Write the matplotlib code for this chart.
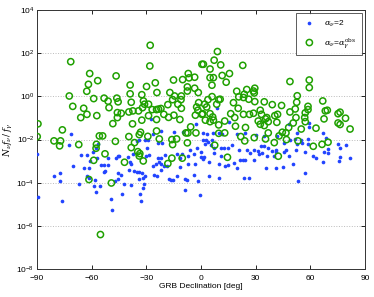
import numpy as np
import matplotlib
matplotlib.use("Agg")
import matplotlib.pyplot as plt

# GRB declination [deg] and log10(N_nu f_nu / f_gamma)
blue_dec = [-71.5, -89.9, -72.3, -56.5, -66.0, -62.7, -59.1, -57.6, -56.9, -60.9,
            -54.7, -53.2, -51.0, -51.2, -46.6, -45.3, -70.4, -64.4, -61.5, -53.2,
            -52.5, -45.7, -45.7, -47.0, -80.9, -77.2, -77.6, -62.6, -61.6, -58.0,
            -67.1, -58.9, -55.4, -57.6, -89.7, -76.1, -49.2, -48.6,
            -27.7, -21.8, -14.9, -9.7, -2.8, -26.6, -31.0, -29.2, -34.3, -35.4,
            -23.7, -21.5, -29.9, -6.0, -2.4, -44.9, -40.2, -37.6, -30.3, -28.8,
            -23.7, -21.8, -20.0, -13.4, -11.6, -10.5, -7.2, -3.9, 0.2, -39.1,
            -38.3, -24.8, -22.9, -26.6, -22.2, -20.4, -18.5, -22.2, -11.6, -7.2,
            -3.1, -39.4, -36.9, -35.4, -34.3, -32.5, -30.6, -43.8, -25.9, -24.4,
            -13.0, -3.9, -34.3, -32.1, -17.8, -16.7, -15.6, -9.0, -7.9, -1.7,
            -42.4, -38.3, -31.7, -31.4, -33.6, -43.5, -8.6, -0.6, -33.2,
            9.0, 1.3, 3.1, 6.8, 10.1, 11.6, 15.6, 19.6, 24.4, 29.9,
            34.3, 41.6, 45.7, 0.9, 2.7, 3.9, 6.0, 2.4, 5.3, 7.2,
            11.2, 12.7, 14.9, 17.1, 21.1, 25.1, 26.9, 29.2, 31.0, 32.8,
            34.3, 36.9, 39.1, 41.3, 45.7, 7.2, 0.2, 1.6, 1.3, 10.8,
            14.9, 18.2, 21.5, 22.9, 24.4, 28.8, 31.7, 33.6, 36.1, 40.2,
            40.9, 4.6, 9.7, 13.0, 20.0, 35.4, 40.9, 44.9, 4.6, 9.7,
            23.7, 26.2,
            48.4, 59.4, 59.1, 52.5, 66.8, 68.6, 48.8, 51.4, 55.0, 55.4,
            58.7, 58.7, 52.8, 75.2, 76.3, 79.3, 46.9, 52.1, 57.2, 67.5,
            69.7, 69.7, 61.6, 63.1, 48.1, 66.8, 76.3, 75.6, 81.8, 50.6,
            56.9, 53.2]
blue_log = [-1.74, -2.68, -2.23, -2.22, -2.71, -2.71, -2.56, -2.37, -2.83, -2.99,
            -3.17, -3.17, -3.16, -2.83, -2.86, -2.74, -3.22, -3.33, -3.33, -3.48,
            -3.44, -3.54, -3.82, -3.92, -3.68, -3.54, -3.90, -3.68, -3.79, -3.87,
            -4.08, -4.15, -4.13, -4.41, -4.66, -4.86, -4.75, -5.24,
            -1.04, -1.60, -1.66, -1.63, -1.29, -1.75, -2.02, -2.00, -2.02, -2.06,
            -2.15, -2.15, -2.37, -2.49, -2.37, -2.76, -2.80, -2.68, -2.77, -2.71,
            -2.85, -2.86, -2.71, -2.68, -2.86, -2.68, -2.77, -2.68, -2.80, -3.02,
            -3.14, -3.11, -3.05, -3.24, -3.14, -3.24, -3.24, -3.42, -3.27, -3.11,
            -3.11, -3.39, -3.45, -3.48, -3.51, -3.54, -3.67, -3.64, -3.64, -3.70,
            -3.67, -3.64, -3.84, -3.79, -3.82, -3.88, -3.85, -3.82, -3.88, -3.92,
            -4.07, -4.12, -4.22, -4.04, -4.50, -4.50, -4.33, -4.58, -4.86,
            -0.55, -1.68, -1.75, -1.68, -1.69, -1.72, -1.17, -1.74, -1.69, -1.78,
            -1.85, -1.83, -2.14, -2.03, -2.00, -2.12, -2.03, -2.22, -2.25, -2.37,
            -2.37, -2.37, -2.40, -2.25, -2.49, -2.46, -2.60, -2.49, -2.52, -2.31,
            -2.28, -2.37, -2.52, -2.46, -2.56, -2.62, -2.56, -2.80, -2.90, -2.74,
            -3.17, -3.08, -2.96, -2.93, -2.93, -2.96, -2.68, -2.62, -2.77, -2.77,
            -2.57, -3.02, -3.11, -3.24, -3.33, -3.33, -3.33, -3.27, -3.71, -3.76,
            -3.79, -3.79,
            -1.26, -1.21, -1.41, -1.69, -1.69, -1.91, -2.00, -1.97, -2.00, -2.15,
            -1.97, -2.19, -2.22, -2.22, -2.37, -2.25, -2.46, -2.46, -2.59, -2.59,
            -2.43, -2.60, -2.74, -2.86, -2.77, -3.05, -2.80, -2.99, -2.86, -3.14,
            -3.54, -3.92]

green_dec = [-71.5, -61.1, -56.7, -61.8, -62.7, -46.6, -72.3, -70.4, -58.9, -53.2,
             -51.0, -46.2, -45.5, -64.4, -62.6, -66.0, -57.2, -50.5, -45.9, -45.9,
             -48.4, -89.5, -89.9, -76.1, -80.7, -77.1, -77.6, -67.1, -55.8, -54.0,
             -57.4, -57.6, -47.0, -52.7, -58.9, -61.5, -49.2, -55.2,
             -27.9, -28.1, -38.9, -29.9, -25.1, -38.9, -32.5, -24.2, -15.1, -10.1,
             -7.0, -6.6, -3.5, 0.5, -7.5, -7.5, -3.5, -1.5, -17.1, -14.5,
             -10.8, -15.6, -18.2, -12.7, -11.0, -10.8, -38.3, -31.6, -31.0, -28.8,
             -32.1, -26.8, -24.4, -23.3, -22.0, -43.8, -39.6, -37.4, -34.3, -28.8,
             -24.4, -20.4, -17.8, -14.9, -11.6, -3.1, -1.7, -2.4, -1.3, 0.5,
             -37.6, -32.5, -5.7, -33.2, -33.9, -29.2, -22.9, -24.4, -39.6, -36.5,
             -38.3, -34.7, -33.6, -33.9, -31.7, -42.0, -16.0, -13.4, -15.6, -16.0,
             -18.2, -8.3, -7.2, -7.5, -2.8, -10.3,
             9.0, 1.3, 7.2, 10.8, 4.95, 4.95, 6.8, 11.6, 15.6, 22.9,
             13.8, 6.0, 19.6, 23.7, 25.1, 20.7, 23.3, 28.8, 29.5, 29.2,
             6.05, 3.8, 9.7, 10.5, 8.6, 2.0, 3.1, 17.8, 26.2, 29.5,
             34.7, 39.1, 44.2, 20.4, 0.9, 4.95, 6.4, 16.3, 23.3, 26.6,
             28.8, 32.5, 33.2, 42.0, 2.4, 4.95, 6.8, 9.7, 13.0, 18.5,
             18.9, 24.4, 31.4, 32.5, 35.4, 36.1, 36.9, 34.7, 41.6, 40.5,
             9.7, 13.0, 36.9, 21.8, 24.0, 29.2, 35.4, 42.8, 44.6, 7.5,
             14.5, 42.4, 40.2,
             48.8, 59.4, 59.4, 52.8, 52.5, 51.7, 48.8, 58.7, 58.7, 57.2,
             52.1, 56.9, 57.2, 50.6, 48.1, 55.0, 63.1, 66.8, 68.2, 69.3,
             67.5, 75.2, 76.3, 75.2, 76.3, 79.3, 81.8, 46.6, 46.9, 53.2,
             61.6, 66.4, 69.7]
green_log = [1.61, 1.06, 0.73, 0.56, 0.24, 0.95, 0.02, -0.46, -0.10, -0.08,
             -0.22, -0.08, -0.25, -0.55, -0.83, -0.98, -0.89, -0.52, -0.75, -0.98,
             -1.26, -1.27, -1.86, -1.55, -2.06, -2.06, -2.29, -2.23, -1.83, -1.83,
             -2.22, -2.40, -2.08, -2.66, -2.96, -3.85, -4.01, -6.40,
             2.37, 1.41, 0.53, 0.46, 0.63, 0.12, 0.08, 0.18, 0.76, 0.78,
             1.06, 0.86, 0.89, 1.49, 0.44, 0.25, 0.38, 0.18, 0.18, 0.02,
             0.02, -0.15, -0.38, -0.36, -0.15, -0.55, -0.27, -0.21, -0.36, -0.36,
             -0.52, -0.61, -0.61, -0.59, -0.56, -0.78, -0.72, -0.67, -0.67, -0.89,
             -1.07, -0.83, -0.97, -0.87, -1.07, -0.87, -0.64, -0.49, -0.29, -0.83,
             -1.27, -1.10, -1.41, -1.66, -1.77, -1.85, -1.97, -1.60, -1.86, -2.14,
             -2.37, -2.56, -2.65, -2.76, -2.99, -3.05, -2.00, -1.97, -2.23, -2.86,
             -3.11, -1.69, -1.69, -2.15, -1.69, -2.86,
             2.08, 1.49, 1.68, 1.46, 1.27, 0.87, 0.87, 0.97, 1.06, 1.44,
             0.66, 0.52, 0.24, 0.10, 0.32, -0.02, -0.05, 0.25, 0.38, 0.16,
             -0.01, -0.15, -0.15, -0.13, -0.36, -0.36, -0.49, -0.29, -0.13, -0.24,
             -0.25, -0.38, -0.42, -0.55, -0.80, -0.80, -0.95, -0.80, -0.83, -0.83,
             -0.78, -0.64, -0.83, -0.83, -1.10, -1.17, -1.10, -1.32, -1.14, -0.98,
             -1.38, -1.44, -1.14, -1.29, -1.04, -0.98, -1.17, -1.35, -1.20, -0.89,
             -1.71, -1.69, -1.69, -1.86, -2.06, -1.91, -1.97, -1.83, -1.66, -2.26,
             -2.82, -2.77, -2.14,
             0.69, 0.76, 0.41, 0.03, -0.27, -0.58, -0.72, -0.46, -0.61, -0.76,
             -0.98, -0.98, -1.17, -1.23, -1.44, -1.51, -1.47, -0.21, -0.67, -0.64,
             -1.04, -0.80, -0.73, -1.23, -1.30, -1.01, -1.51, -1.69, -2.00, -2.06,
             -2.31, -2.22, -2.12]

blue_y = 10.0 ** np.array(blue_log)
green_y = 10.0 ** np.array(green_log)

plt.rcParams['font.family'] = ['Liberation Sans', 'DejaVu Sans']
plt.rcParams['mathtext.fontset'] = 'dejavuserif'

fig = plt.figure(figsize=(3.74, 2.97), dpi=100)
ax = fig.add_axes([0.099, 0.094, 0.877, 0.872])

ax.scatter(blue_dec, blue_y, s=7, c='#2244ff', linewidths=0, zorder=3,
           label=r'$\alpha_\nu$=2')
ax.scatter(green_dec, green_y, s=20, facecolors='none', edgecolors='#1fa000',
           linewidths=1.1, zorder=3, label=r'$\alpha_\nu$=$\alpha_\gamma^{\rm obs}$')

ax.set_yscale('log')
ax.set_xlim(-90, 90)
ax.set_ylim(1e-8, 1e4)
ax.set_xticks([-90, -60, -30, 0, 30, 60, 90])
ax.set_yticks([1e-8, 1e-6, 1e-4, 1e-2, 1e0, 1e2, 1e4])
ax.minorticks_off()
ax.tick_params(direction='in', top=True, right=True, length=3, width=0.6,
               labelsize=6, pad=2)
ax.tick_params(axis='x', pad=4)
ax.yaxis.grid(True, linestyle=':', color='#bbbbbb', linewidth=0.7)
for sp in ax.spines.values():
    sp.set_linewidth(0.7)
    sp.set_color('#333333')

ax.set_xlabel('GRB Declination [deg]', fontsize=6, labelpad=1)
ax.set_ylabel(r'$N_\nu f_\nu\,/\,f_\gamma$', fontsize=6.5, labelpad=1)

leg = ax.legend(loc='upper right', fontsize=6, frameon=True, fancybox=False,
                borderaxespad=0.4, handletextpad=0.8, borderpad=0.6,
                labelspacing=0.9, scatterpoints=1)
leg.get_frame().set_edgecolor('#333333')
leg.get_frame().set_linewidth(0.7)

fig.savefig('out.png', dpi=100)
